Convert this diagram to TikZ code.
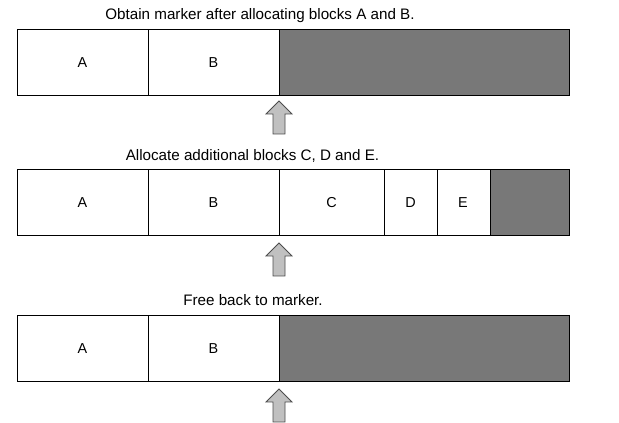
\documentclass[tikz,border=0pt]{standalone}
\usepackage{fontspec}
\setmainfont{Liberation Sans}
\tikzset{every picture/.style={line width=0.75pt}}
\definecolor{freegray}{RGB}{120,120,120}
\definecolor{arrowgray}{RGB}{192,192,192}
\tikzset{
  blockbox/.style={draw=black, fill=white},
  freebox/.style={draw=black, fill=freegray},
  blocklabel/.style={font=\fontsize{10.8}{12}\selectfont},
  captionlabel/.style={font=\fontsize{11.4}{13}\selectfont},
  markarrow/.style={draw=black!70, fill=arrowgray, line width=0.6pt}
}
\begin{document}
\begin{tikzpicture}[x=0.75pt,y=0.75pt,yscale=-1,xscale=1]
	\useasboundingbox (0,0) rectangle (619,423);

	%Shape: Rectangle [first bar]
	\draw [freebox] (279,30) rectangle (569,96) ;
	\draw [blockbox] (17,30) rectangle (148,96) ;
	\draw [blockbox] (148,30) rectangle (279,96) ;
	%Shape: Arrow [marker 1]
	\draw [markarrow] (279,101) -- (292,114) -- (285,114) -- (285,134) -- (273,134) -- (273,114) -- (266,114) -- cycle ;

	%Shape: Rectangle [second bar]
	\draw [freebox] (490,170) rectangle (569,236) ;
	\draw [blockbox] (17,170) rectangle (148,236) ;
	\draw [blockbox] (148,170) rectangle (279,236) ;
	\draw [blockbox] (279,170) rectangle (384,236) ;
	\draw [blockbox] (384,170) rectangle (437,236) ;
	\draw [blockbox] (437,170) rectangle (490,236) ;
	%Shape: Arrow [marker 2]
	\draw [markarrow] (279,243) -- (292,256) -- (285,256) -- (285,276) -- (273,276) -- (273,256) -- (266,256) -- cycle ;

	%Shape: Rectangle [third bar]
	\draw [freebox] (279,316) rectangle (569,382) ;
	\draw [blockbox] (17,316) rectangle (148,382) ;
	\draw [blockbox] (148,316) rectangle (279,382) ;
	%Shape: Arrow [marker 3]
	\draw [markarrow] (279,389) -- (292,402) -- (285,402) -- (285,422) -- (273,422) -- (273,402) -- (266,402) -- cycle ;

	% Text Node
	\node [captionlabel] (capA) at (260,16) {Obtain marker after allocating blocks A and B.};
	% Text Node
	\node [captionlabel] (capB) at (252.5,156) {Allocate additional blocks C, D and E.};
	% Text Node
	\node [captionlabel] (capC) at (253,300) {Free back to marker.};

	% Text Node
	\node [blocklabel] (a1) at (82.5,63) {A};
	\node [blocklabel] (b1) at (213.5,63) {B};
	% Text Node
	\node [blocklabel] (a2) at (82.5,203) {A};
	\node [blocklabel] (b2) at (213.5,203) {B};
	\node [blocklabel] (c2) at (331.5,203) {C};
	\node [blocklabel] (d2) at (410.5,203) {D};
	\node [blocklabel] (e2) at (463,203) {E};
	% Text Node
	\node [blocklabel] (a3) at (82.5,349) {A};
	\node [blocklabel] (b3) at (213.5,349) {B};

\end{tikzpicture}
\end{document}
